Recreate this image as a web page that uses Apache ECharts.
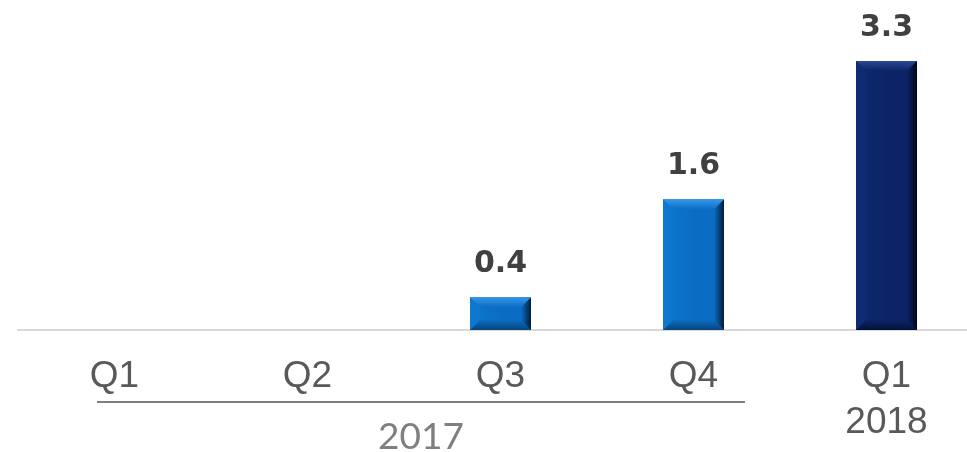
<!DOCTYPE html>
<html>
<head>
<meta charset="utf-8">
<script src="https://cdn.jsdelivr.net/npm/echarts@6/dist/echarts.min.js"></script>
<style>
html,body{margin:0;padding:0;background:#fff;overflow:hidden;width:967px;height:452px;}
#chart{width:983px;height:452px;}
</style>
</head>
<body>
<div id="chart"></div>
<script>
const categories = ['Q1', 'Q2', 'Q3', 'Q4', 'Q1\n2018'];
const values = [null, null, 0.4, 1.6, 3.3];
const valueLabels = ['', '', '0.4', '1.6', '3.3'];
const groupLabel = '2017';

const palettes = {
  blue: { main: '#0a6dc3', top: '#3396e8', left: '#0c78d0', right: '#011d36', bottom: '#07447a' },
  navy: { main: '#0c2466', top: '#2b4890', left: '#102b72', right: '#000612', bottom: '#04123a' }
};
function pal(i) { return i === categories.length - 1 ? palettes.navy : palettes.blue; }

const chart = echarts.init(document.getElementById('chart'), null, { renderer: 'canvas' });

const barData = values.map((v, i) => v == null ? '-' : {
  value: v,
  itemStyle: { color: pal(i).main },
  label: { formatter: valueLabels[i] }
});
const bevelData = values.map((v, i) => v == null ? null : [i, v]).filter(d => d);

function renderBevel(params, api) {
  const i = api.value(0), v = api.value(1);
  const t = api.coord([i, v]);
  const b0 = api.coord([i, 0]);
  const w = 61, b = 10;
  const x0 = t[0] - w / 2, x1 = t[0] + w / 2, y0 = t[1], y1 = b0[1];
  const p = pal(i);
  const bb = Math.min(b, (y1 - y0) / 2);
  return {
    type: 'group',
    children: [
      { type: 'rect', shape: { x: x0, y: y0, width: w, height: y1 - y0 },
        style: { fill: new echarts.graphic.LinearGradient(0, 0, 1, 0, [
          { offset: 0, color: p.left }, { offset: 0.5, color: p.main }, { offset: 1, color: p.main }]) } },
      { type: 'polygon', shape: { points: [[x0, y0], [x1, y0], [x1 - b, y0 + bb], [x0 + b, y0 + bb]] },
        style: { fill: new echarts.graphic.LinearGradient(0, 0, 0, 1, [
          { offset: 0, color: p.top }, { offset: 1, color: p.main }]) } },
      { type: 'polygon', shape: { points: [[x0, y1], [x1, y1], [x1 - b, y1 - bb], [x0 + b, y1 - bb]] },
        style: { fill: new echarts.graphic.LinearGradient(0, 0, 0, 1, [
          { offset: 0, color: p.main }, { offset: 1, color: p.bottom }]) } },
      { type: 'polygon', shape: { points: [[x0, y0], [x0 + b, y0 + bb], [x0 + b, y1 - bb], [x0, y1]] },
        style: { fill: p.left, opacity: 0.9 } },
      { type: 'polygon', shape: { points: [[x1, y0], [x1 - b, y0 + bb], [x1 - b, y1 - bb], [x1, y1]] },
        style: { fill: new echarts.graphic.LinearGradient(0, 0, 1, 0, [
          { offset: 0, color: p.main }, { offset: 1, color: p.right }]) } }
    ]
  };
}

chart.setOption({
  animation: false,
  grid: { left: 18, right: 0, top: 4, bottom: 122 },
  xAxis: {
    type: 'category',
    data: categories,
    axisLine: { show: true, lineStyle: { color: '#d9d9d9', width: 2 } },
    axisTick: { show: false },
    axisLabel: {
      interval: 0, margin: 24,
      color: '#595959', fontSize: 37, lineHeight: 46,
      fontFamily: 'Liberation Sans, Arial, sans-serif'
    }
  },
  yAxis: { type: 'value', min: 0, max: 4, show: false, splitLine: { show: false } },
  series: [
    {
      type: 'bar',
      data: barData,
      barWidth: 61,
      z: 1,
      label: {
        show: true, position: 'top', distance: 18,
        color: '#404040', fontSize: 30, fontWeight: 'bold',
        fontFamily: 'DejaVu Sans, sans-serif'
      }
    },
    {
      type: 'custom',
      data: bevelData,
      renderItem: renderBevel,
      z: 2,
      silent: true
    }
  ],
  graphic: [
    { type: 'line', shape: { x1: 97, y1: 402, x2: 745, y2: 402 },
      style: { stroke: '#7f7f7f', lineWidth: 2 } },
    { type: 'text', x: 421, y: 437,
      style: { text: groupLabel, fill: '#7f7f7f', fontSize: 37,
        fontFamily: 'Lato, Open Sans, sans-serif', textAlign: 'center', textVerticalAlign: 'middle' } }
  ]
});
</script>
</body>
</html>
